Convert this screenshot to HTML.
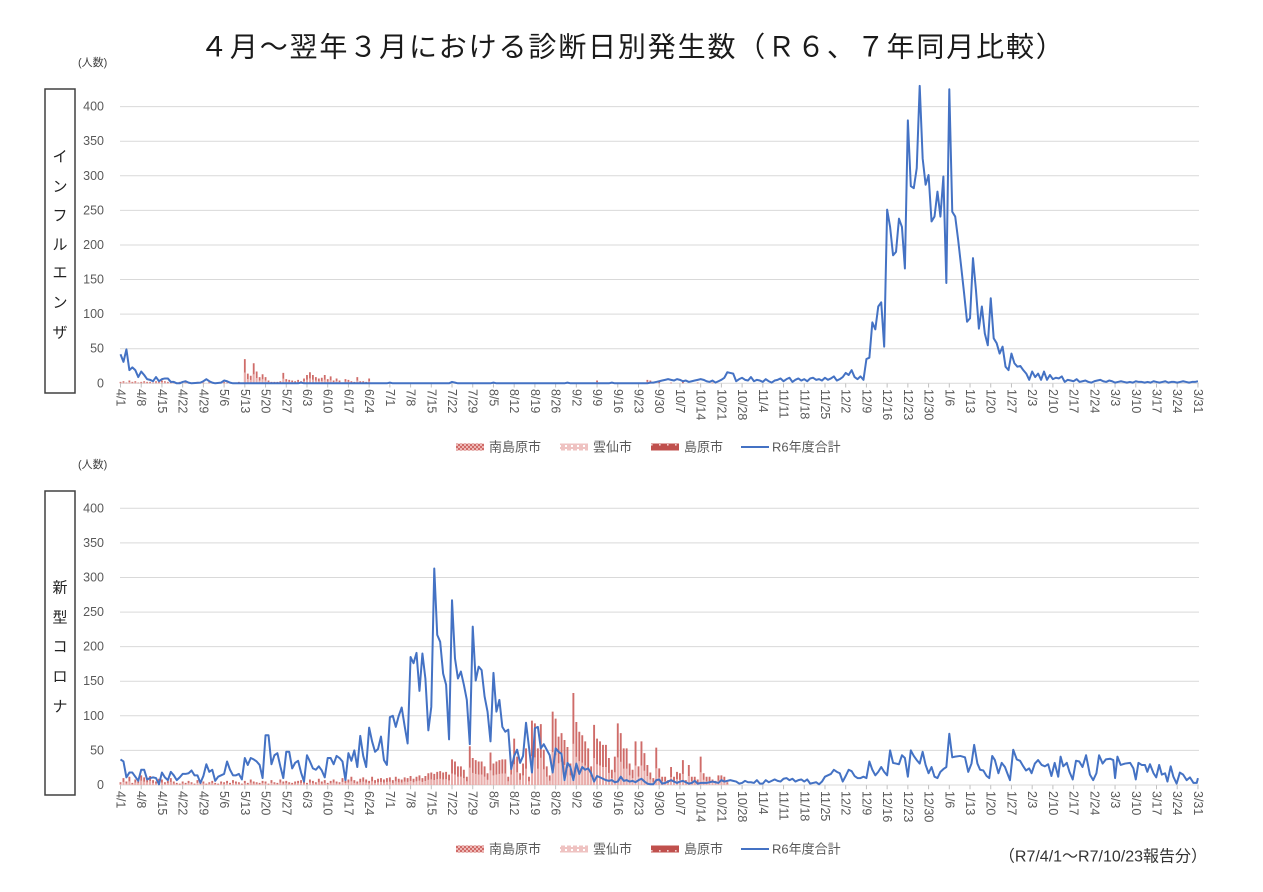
<!DOCTYPE html>
<html><head><meta charset="utf-8"><style>
html,body{margin:0;padding:0;background:#fff}
svg{display:block}
text{font-family:"Liberation Sans","Noto Sans CJK JP",sans-serif}
</style></head><body>
<svg width="1263" height="892" viewBox="0 0 1263 892" xmlns="http://www.w3.org/2000/svg">
<defs>
<pattern id="pa" width="4" height="4" patternUnits="userSpaceOnUse"><rect width="4" height="4" fill="#cf6a67"/><rect width="2" height="2" fill="#eeb8b6"/><rect x="2" y="2" width="2" height="2" fill="#eeb8b6"/></pattern>
<pattern id="pb" width="6" height="4" patternUnits="userSpaceOnUse"><rect width="6" height="4" fill="#efc3c2"/><rect x="1" y="1" width="2" height="2" fill="#fff"/></pattern>
<pattern id="pc" width="8" height="7" patternUnits="userSpaceOnUse"><rect width="8" height="7" fill="#c0504d"/><rect x="3" y="3" width="1.6" height="1.6" fill="#f3d0cf"/></pattern>
</defs>
<rect width="1263" height="892" fill="#fff"/>

<!-- Title -->
<text x="200" y="47" font-size="28" letter-spacing="1.85" fill="#1a1a1a" dominant-baseline="central">４月～翌年３月における診断日別発生数（Ｒ６、７年同月比較）</text>

<!-- ================= TOP CHART ================= -->
<text x="78" y="63" font-size="11" fill="#404040" dominant-baseline="central">(人数)</text>
<rect x="45" y="89" width="30" height="304" fill="none" stroke="#404040" stroke-width="1.5"/>
<g font-size="15" fill="#222" text-anchor="middle" dominant-baseline="central">
<text x="60" y="157">イ</text><text x="60" y="187">ン</text><text x="60" y="216">フ</text><text x="60" y="245">ル</text><text x="60" y="273">エ</text><text x="60" y="303">ン</text><text x="60" y="333">ザ</text>
</g>
<g stroke="#d9d9d9" stroke-width="1">
<line x1="120" y1="106.6" x2="1199" y2="106.6"/><line x1="120" y1="141.2" x2="1199" y2="141.2"/><line x1="120" y1="175.8" x2="1199" y2="175.8"/><line x1="120" y1="210.4" x2="1199" y2="210.4"/><line x1="120" y1="245" x2="1199" y2="245"/><line x1="120" y1="279.5" x2="1199" y2="279.5"/><line x1="120" y1="314.1" x2="1199" y2="314.1"/><line x1="120" y1="348.7" x2="1199" y2="348.7"/><line x1="120" y1="383.3" x2="1199" y2="383.3"/>
</g>
<line x1="120" y1="385.5" x2="1200" y2="385.5" stroke="#bfbfbf" stroke-width="4" stroke-dasharray="1 19.72"/>
<g font-size="12.5" fill="#595959" text-anchor="end" dominant-baseline="central">
<text x="104" y="106.6">400</text><text x="104" y="141.2">350</text><text x="104" y="175.8">300</text><text x="104" y="210.4">250</text><text x="104" y="245">200</text><text x="104" y="279.5">150</text><text x="104" y="314.1">100</text><text x="104" y="348.7">50</text><text x="104" y="383.3">0</text>
</g>
<!-- top bars -->
<g transform="translate(120.5,383.3) scale(2.96,-0.6918)" fill="none">
<path stroke="#cf6c69" stroke-width="1.8" vector-effect="non-scaling-stroke" d="M0 0V2M1 0V3M2 0V1M3 0V4M4 0V2M5 0V3M6 0V1M7 0V2M8 0V3M9 0V2M10 0V2M11 0V1M12 0V3M13 0V2M14 0V4M15 0V3M16 0V2M17 0V1M18 0V2M19 0V1M20 0V2M22 0V1M24 0V1M26 0V2M28 0V1M30 0V2M31 0V1M33 0V1M35 0V2M36 0V1M38 0V1M40 0V2M41 0V1M42 0V35M43 0V14M44 0V11M45 0V29M46 0V17M47 0V9M48 0V13M49 0V9M50 0V4M51 0V2M52 0V2M53 0V2M54 0V3M55 0V15M56 0V6M57 0V5M58 0V4M59 0V3M60 0V5M61 0V3M62 0V7M63 0V12M64 0V16M65 0V12M66 0V9M67 0V7M68 0V8M69 0V12M70 0V6M71 0V10M72 0V4M73 0V7M74 0V4M75 0V1M76 0V6M77 0V5M78 0V3M79 0V2M80 0V9M81 0V3M82 0V3M83 0V2M84 0V7M86 0V1M90 0V1M95 0V1M100 0V1M104 0V1M110 0V1M115 0V1M120 0V1M128 0V1M135 0V1M140 0V1M146 0V1M150 0V1M155 0V1M161 0V4M165 0V1M170 0V1M176 0V1M178 0V5M179 0V4M182 0V2M186 0V1M190 0V2M195 0V1M200 0V1"/>
</g>
<g transform="translate(120.5,383.3) scale(2.96,-0.31)" fill="none">
<path stroke="#eaaeac" stroke-width="1.8" vector-effect="non-scaling-stroke" d="M0 0V2M1 0V3M2 0V1M3 0V4M4 0V2M5 0V3M6 0V1M7 0V2M8 0V3M9 0V2M10 0V2M11 0V1M12 0V3M13 0V2M14 0V4M15 0V3M16 0V2M17 0V1M18 0V2M19 0V1M20 0V2M22 0V1M24 0V1M26 0V2M28 0V1M30 0V2M31 0V1M33 0V1M35 0V2M36 0V1M38 0V1M40 0V2M41 0V1M42 0V35M43 0V14M44 0V11M45 0V29M46 0V17M47 0V9M48 0V13M49 0V9M50 0V4M51 0V2M52 0V2M53 0V2M54 0V3M55 0V15M56 0V6M57 0V5M58 0V4M59 0V3M60 0V5M61 0V3M62 0V7M63 0V12M64 0V16M65 0V12M66 0V9M67 0V7M68 0V8M69 0V12M70 0V6M71 0V10M72 0V4M73 0V7M74 0V4M75 0V1M76 0V6M77 0V5M78 0V3M79 0V2M80 0V9M81 0V3M82 0V3M83 0V2M84 0V7M161 0V4M178 0V5M179 0V4"/>
</g>
<!-- top line -->
<g transform="translate(120.5,383.3) scale(2.96,-0.6918)">
<polyline fill="none" stroke="#4472c4" stroke-width="2" stroke-linejoin="round" vector-effect="non-scaling-stroke" points="0,42 1,31 2,49 3,19 4,23 5,19 6,9 7,17 8,12 9,6 10,5 11,3 12,9 13,3 14,6 15,7 16,7 17,2 18,2 19,0 20,0 21,2 22,3 23,1 24,0 27,1 28,3 29,6 30,3 31,1 32,0 34,1 35,4 36,3 37,1 38,0 60,0 61,1 62,0 90,0 91,1 92,0 111,0 112,2 113,1 114,0 125,0 126,1 127,0 150,0 151,1 152,0 165,0 166,1 167,0 178,0 179,1 180,1 181,2 182,3 183,4 184,5 185,6 186,5 187,4 188,6 189,5 190,3 191,4 192,2 193,3 194,4 195,5 196,6 197,5 198,3 199,2 200,4 201,1 202,3 203,5 204,8 205,16 206,15 207,14 208,3 209,6 210,8 211,5 212,4 213,9 214,3 215,5 216,4 217,2 218,6 219,3 220,1 221,4 222,5 223,7 224,3 225,6 226,8 227,2 228,5 229,7 230,4 231,6 232,3 233,7 234,8 235,5 236,6 237,4 238,8 239,5 240,7 241,10 242,4 243,6 244,9 245,15 246,12 247,19 248,9 249,6 250,10 251,5 252,35 253,37 254,88 255,78 256,111 257,117 258,53 259,251 260,226 261,185 262,190 263,238 264,226 265,166 266,380 267,285 268,282 269,311 270,430 271,325 272,287 273,301 274,234 275,241 276,277 277,241 278,299 279,145 280,425 281,248 282,241 283,207 284,169 285,130 286,89 287,94 288,181 289,135 290,79 291,111 292,72 293,55 294,123 295,65 296,58 297,43 298,53 299,24 300,19 301,43 302,29 303,24 304,25 305,19 306,14 307,5 308,17 309,9 310,14 311,5 312,17 313,5 314,12 315,6 316,8 317,7 318,10 319,2 320,5 321,4 322,3 323,6 324,2 325,3 326,4 327,2 328,1 329,3 330,4 331,5 332,3 333,2 334,4 335,3 336,1 337,2 338,3 339,2 340,1 341,2 342,1 343,3 344,2 345,2 346,1 347,2 348,1 349,3 350,2 351,1 352,2 353,3 354,1 355,2 356,2 357,1 358,2 359,3 360,2 361,1 362,2 363,2 364,3"/>
</g>
<!-- top x labels -->
<g transform="rotate(90)" font-size="12.5" fill="#595959" dominant-baseline="central">
<text x="389" y="-120.5">4/1</text><text x="389" y="-141.2">4/8</text><text x="389" y="-161.9">4/15</text><text x="389" y="-182.7">4/22</text><text x="389" y="-203.4">4/29</text><text x="389" y="-224.1">5/6</text><text x="389" y="-244.8">5/13</text><text x="389" y="-265.5">5/20</text><text x="389" y="-286.3">5/27</text><text x="389" y="-307">6/3</text><text x="389" y="-327.7">6/10</text><text x="389" y="-348.4">6/17</text><text x="389" y="-369.1">6/24</text><text x="389" y="-389.9">7/1</text><text x="389" y="-410.6">7/8</text><text x="389" y="-431.3">7/15</text><text x="389" y="-452">7/22</text><text x="389" y="-472.7">7/29</text><text x="389" y="-493.5">8/5</text><text x="389" y="-514.2">8/12</text><text x="389" y="-534.9">8/19</text><text x="389" y="-555.6">8/26</text><text x="389" y="-576.3">9/2</text><text x="389" y="-597.1">9/9</text><text x="389" y="-617.8">9/16</text><text x="389" y="-638.5">9/23</text><text x="389" y="-659.2">9/30</text><text x="389" y="-679.9">10/7</text><text x="389" y="-700.7">10/14</text><text x="389" y="-721.4">10/21</text><text x="389" y="-742.1">10/28</text><text x="389" y="-762.8">11/4</text><text x="389" y="-783.5">11/11</text><text x="389" y="-804.3">11/18</text><text x="389" y="-825">11/25</text><text x="389" y="-845.7">12/2</text><text x="389" y="-866.4">12/9</text><text x="389" y="-887.1">12/16</text><text x="389" y="-907.9">12/23</text><text x="389" y="-928.6">12/30</text><text x="389" y="-949.3">1/6</text><text x="389" y="-970">1/13</text><text x="389" y="-990.7">1/20</text><text x="389" y="-1011.5">1/27</text><text x="389" y="-1032.2">2/3</text><text x="389" y="-1052.9">2/10</text><text x="389" y="-1073.6">2/17</text><text x="389" y="-1094.3">2/24</text><text x="389" y="-1115.1">3/3</text><text x="389" y="-1135.8">3/10</text><text x="389" y="-1156.5">3/17</text><text x="389" y="-1177.2">3/24</text><text x="389" y="-1197.9">3/31</text>
</g>
<!-- top legend -->
<rect x="456" y="443.5" width="28" height="7" fill="url(#pa)"/>
<rect x="560" y="443.5" width="28" height="7" fill="url(#pb)"/>
<rect x="651" y="443.5" width="28" height="7" fill="url(#pc)"/>
<line x1="741" y1="447" x2="769" y2="447" stroke="#4472c4" stroke-width="2"/>
<g font-size="13" fill="#595959" dominant-baseline="central">
<text x="489" y="447">南島原市</text><text x="593" y="447">雲仙市</text><text x="684" y="447">島原市</text><text x="772" y="447">R6年度合計</text>
</g>

<!-- ================= BOTTOM CHART ================= -->
<text x="78" y="465" font-size="11" fill="#404040" dominant-baseline="central">(人数)</text>
<rect x="45" y="491" width="30" height="304" fill="none" stroke="#404040" stroke-width="1.5"/>
<g font-size="15" fill="#222" text-anchor="middle" dominant-baseline="central">
<text x="60" y="588">新</text><text x="60" y="618">型</text><text x="60" y="647">コ</text><text x="60" y="677">ロ</text><text x="60" y="707">ナ</text>
</g>
<g stroke="#d9d9d9" stroke-width="1">
<line x1="120" y1="508.3" x2="1199" y2="508.3"/><line x1="120" y1="542.9" x2="1199" y2="542.9"/><line x1="120" y1="577.5" x2="1199" y2="577.5"/><line x1="120" y1="612.1" x2="1199" y2="612.1"/><line x1="120" y1="646.6" x2="1199" y2="646.6"/><line x1="120" y1="681.2" x2="1199" y2="681.2"/><line x1="120" y1="715.8" x2="1199" y2="715.8"/><line x1="120" y1="750.4" x2="1199" y2="750.4"/><line x1="120" y1="785" x2="1199" y2="785"/>
</g>
<line x1="120" y1="787.2" x2="1200" y2="787.2" stroke="#bfbfbf" stroke-width="4" stroke-dasharray="1 19.72"/>
<g font-size="12.5" fill="#595959" text-anchor="end" dominant-baseline="central">
<text x="104" y="508.3">400</text><text x="104" y="542.9">350</text><text x="104" y="577.5">300</text><text x="104" y="612.1">250</text><text x="104" y="646.6">200</text><text x="104" y="681.2">150</text><text x="104" y="715.8">100</text><text x="104" y="750.4">50</text><text x="104" y="785">0</text>
</g>
<!-- bottom bars -->
<g transform="translate(120.5,785) scale(2.96,-0.6918)" fill="none">
<path stroke="#cf6c69" stroke-width="1.9" vector-effect="non-scaling-stroke" d="M0 0V4M1 0V10M2 0V5M3 0V12M4 0V3M5 0V8M6 0V6M7 0V14M8 0V11M9 0V9M10 0V13M11 0V7M12 0V5M13 0V9M14 0V8M15 0V4M16 0V6M17 0V10M18 0V5M19 0V3M20 0V2M21 0V5M22 0V3M23 0V6M24 0V4M25 0V2M26 0V7M27 0V3M28 0V5M29 0V2M30 0V4M31 0V6M32 0V3M33 0V2M34 0V5M35 0V4M36 0V6M37 0V3M38 0V7M39 0V5M40 0V4M41 0V2M42 0V6M43 0V3M44 0V8M45 0V5M46 0V4M47 0V3M48 0V6M49 0V5M50 0V2M51 0V7M52 0V4M53 0V3M54 0V8M55 0V5M56 0V6M57 0V4M58 0V3M59 0V5M60 0V6M61 0V7M62 0V5M63 0V3M64 0V8M65 0V6M66 0V4M67 0V9M68 0V5M69 0V7M70 0V3M71 0V6M72 0V8M73 0V5M74 0V4M75 0V10M76 0V6M77 0V8M78 0V12M79 0V7M80 0V5M81 0V9M82 0V11M83 0V8M84 0V6M85 0V12M86 0V7M87 0V9M88 0V10M89 0V8M90 0V10M91 0V11M92 0V7M93 0V12M94 0V9M95 0V8M96 0V11M97 0V10M98 0V13M99 0V9M100 0V12M101 0V14M102 0V10M103 0V13M104 0V17M105 0V18M106 0V16M107 0V19M108 0V20M109 0V18M110 0V19M111 0V15M112 0V37M113 0V34M114 0V27M115 0V27M116 0V22M117 0V12M118 0V56M119 0V39M120 0V36M121 0V34M122 0V34M123 0V27M124 0V17M125 0V47M126 0V31M127 0V34M128 0V36M129 0V37M130 0V37M131 0V12M132 0V34M133 0V67M134 0V41M135 0V17M136 0V31M137 0V53M138 0V12M139 0V93M140 0V89M141 0V53M142 0V88M143 0V51M144 0V27M145 0V14M146 0V106M147 0V96M148 0V70M149 0V75M150 0V65M151 0V55M152 0V31M153 0V133M154 0V91M155 0V77M156 0V72M157 0V63M158 0V53M159 0V27M160 0V87M161 0V67M162 0V63M163 0V58M164 0V58M165 0V39M166 0V22M167 0V41M168 0V89M169 0V75M170 0V53M171 0V53M172 0V31M173 0V22M174 0V63M175 0V27M176 0V63M177 0V46M178 0V29M179 0V18M180 0V10M181 0V54M182 0V24M183 0V12M184 0V12M185 0V7M186 0V26M187 0V12M188 0V19M189 0V17M190 0V36M191 0V7M192 0V29M193 0V12M194 0V12M195 0V8M196 0V41M197 0V17M198 0V12M199 0V12M200 0V8M201 0V6M202 0V14M203 0V14M204 0V12M205 0V4"/>
</g>
<g transform="translate(120.5,785) scale(2.96,-0.31)" fill="none">
<path stroke="#eaaeac" stroke-width="1.9" vector-effect="non-scaling-stroke" d="M0 0V4M1 0V10M2 0V5M3 0V12M4 0V3M5 0V8M6 0V6M7 0V14M8 0V11M9 0V9M10 0V13M11 0V7M12 0V5M13 0V9M14 0V8M15 0V4M16 0V6M17 0V10M18 0V5M19 0V3M20 0V2M21 0V5M22 0V3M23 0V6M24 0V4M25 0V2M26 0V7M27 0V3M28 0V5M29 0V2M30 0V4M31 0V6M32 0V3M33 0V2M34 0V5M35 0V4M36 0V6M37 0V3M38 0V7M39 0V5M40 0V4M41 0V2M42 0V6M43 0V3M44 0V8M45 0V5M46 0V4M47 0V3M48 0V6M49 0V5M50 0V2M51 0V7M52 0V4M53 0V3M54 0V8M55 0V5M56 0V6M57 0V4M58 0V3M59 0V5M60 0V6M61 0V7M62 0V5M63 0V3M64 0V8M65 0V6M66 0V4M67 0V9M68 0V5M69 0V7M70 0V3M71 0V6M72 0V8M73 0V5M74 0V4M75 0V10M76 0V6M77 0V8M78 0V12M79 0V7M80 0V5M81 0V9M82 0V11M83 0V8M84 0V6M85 0V12M86 0V7M87 0V9M88 0V10M89 0V8M90 0V10M91 0V11M92 0V7M93 0V12M94 0V9M95 0V8M96 0V11M97 0V10M98 0V13M99 0V9M100 0V12M101 0V14M102 0V10M103 0V13M104 0V17M105 0V18M106 0V16M107 0V19M108 0V20M109 0V18M110 0V19M111 0V15M112 0V37M113 0V34M114 0V27M115 0V27M116 0V22M117 0V12M118 0V56M119 0V39M120 0V36M121 0V34M122 0V34M123 0V27M124 0V17M125 0V47M126 0V31M127 0V34M128 0V36M129 0V37M130 0V37M131 0V12M132 0V34M133 0V67M134 0V41M135 0V17M136 0V31M137 0V53M138 0V12M139 0V93M140 0V89M141 0V53M142 0V88M143 0V51M144 0V27M145 0V14M146 0V106M147 0V96M148 0V70M149 0V75M150 0V65M151 0V55M152 0V31M153 0V133M154 0V91M155 0V77M156 0V72M157 0V63M158 0V53M159 0V27M160 0V87M161 0V67M162 0V63M163 0V58M164 0V58M165 0V39M166 0V22M167 0V41M168 0V89M169 0V75M170 0V53M171 0V53M172 0V31M173 0V22M174 0V63M175 0V27M176 0V63M177 0V46M178 0V29M179 0V18M180 0V10M181 0V54M182 0V24M183 0V12M184 0V12M185 0V7M186 0V26M187 0V12M188 0V19M189 0V17M190 0V36M191 0V7M192 0V29M193 0V12M194 0V12M195 0V8M196 0V41M197 0V17M198 0V12M199 0V12M200 0V8M201 0V6M202 0V14M203 0V14M204 0V12M205 0V4"/>
</g>
<!-- bottom line -->
<g transform="translate(120.5,785) scale(2.96,-0.6918)">
<polyline fill="none" stroke="#4472c4" stroke-width="2" stroke-linejoin="round" vector-effect="non-scaling-stroke" points="0,37 1,34 2,11 3,18 4,18 5,12 6,6 7,22 8,22 9,8 10,10 11,11 12,10 13,1 14,18 15,11 16,7 17,19 18,14 19,7 20,11 21,16 22,16 23,17 24,21 25,14 26,14 27,3 28,13 29,30 30,19 31,22 32,6 33,12 34,14 35,16 36,34 37,22 38,14 39,14 40,16 41,8 42,39 43,29 44,39 45,37 46,34 47,29 48,10 49,72 50,72 51,30 52,43 53,46 54,27 55,10 56,48 57,48 58,24 59,32 60,35 61,18 62,5 63,43 64,34 65,24 66,22 67,27 68,21 69,11 70,39 71,39 72,30 73,42 74,39 75,34 76,7 77,46 78,35 79,50 80,26 81,71 82,42 83,26 84,83 85,63 86,48 87,52 88,70 89,36 90,29 91,98 92,100 93,84 94,100 95,112 96,85 97,60 98,185 99,176 100,191 101,136 102,190 103,154 104,79 105,113 106,313 107,217 108,207 109,161 110,145 111,66 112,267 113,183 114,154 115,164 116,145 117,123 118,59 119,229 120,151 121,171 122,166 123,128 124,106 125,63 126,162 127,106 128,123 129,84 130,77 131,80 132,23 133,42 134,51 135,32 136,42 137,90 138,55 139,18 140,82 141,84 142,53 143,59 144,51 145,43 146,18 147,53 148,48 149,45 150,7 151,32 152,26 153,7 154,31 155,16 156,26 157,22 158,24 159,17 160,5 161,13 162,11 163,9 164,7 165,6 166,7 167,4 168,5 169,12 170,6 171,7 172,5 173,6 174,4 175,7 176,9 177,5 178,2 179,1 180,1 181,7 182,8 183,2 184,3 185,5 186,7 187,5 188,3 189,5 190,6 191,4 192,2 193,3 194,6 195,2 196,3 197,3 198,3 199,4 200,5 201,4 202,3 203,7 204,5 205,6 206,7 207,6 208,5 209,2 210,3 211,6 212,4 213,4 214,3 215,7 216,2 217,2 218,7 219,4 220,6 221,8 222,6 223,5 224,9 225,10 226,7 227,9 228,5 229,7 230,8 231,5 232,8 233,2 234,3 235,4 236,1 237,5 238,12 239,14 240,16 241,22 242,19 243,17 244,5 245,13 246,22 247,20 248,13 249,10 250,10 251,12 252,10 253,34 254,22 255,14 256,19 257,26 258,19 259,14 260,50 261,32 262,31 263,30 264,43 265,39 266,12 267,50 268,42 269,36 270,31 271,48 272,29 273,17 274,26 275,12 276,10 277,19 278,23 279,26 280,74 281,40 282,41 283.7,42 285.3,40 286.4,19 287.5,31 288.4,58 289.5,31 290.4,22 291.5,21 292.6,13 293.5,10 294.5,42 295.4,36 296.6,17 297.7,32 298.8,26 299.6,17 300.5,7 301.6,51 302.8,37 303.9,35 305,27 305.9,21 307,24 307.8,17 308.9,31 310,36 311.2,29 312.3,27 313.4,30 314.5,13 315.6,32 316.8,12 317.6,41 318.5,27 319.7,32 320.6,19 321.7,8 322.8,35 323.9,34 325,26 326.2,43 327.5,15 328.6,7 329.7,17 330.6,43 331.8,31 332.9,37 334.3,38 335.4,36 336,10 336.8,41 337.9,29 339.4,31 341.1,32 342.2,24 343,8 343.9,32 345,29 346.1,29 346.9,19 347.8,30 349,17 349.9,11 350.9,29 351.8,15 352.9,17 353.7,5 354.8,27 355.7,12 356.8,2 357.9,18 359,15 360.2,7 361.3,11 362.5,3 363.6,3 364,10"/>
</g>
<!-- bottom x labels -->
<g transform="rotate(90)" font-size="12.5" fill="#595959" dominant-baseline="central">
<text x="791" y="-120.5">4/1</text><text x="791" y="-141.2">4/8</text><text x="791" y="-161.9">4/15</text><text x="791" y="-182.7">4/22</text><text x="791" y="-203.4">4/29</text><text x="791" y="-224.1">5/6</text><text x="791" y="-244.8">5/13</text><text x="791" y="-265.5">5/20</text><text x="791" y="-286.3">5/27</text><text x="791" y="-307">6/3</text><text x="791" y="-327.7">6/10</text><text x="791" y="-348.4">6/17</text><text x="791" y="-369.1">6/24</text><text x="791" y="-389.9">7/1</text><text x="791" y="-410.6">7/8</text><text x="791" y="-431.3">7/15</text><text x="791" y="-452">7/22</text><text x="791" y="-472.7">7/29</text><text x="791" y="-493.5">8/5</text><text x="791" y="-514.2">8/12</text><text x="791" y="-534.9">8/19</text><text x="791" y="-555.6">8/26</text><text x="791" y="-576.3">9/2</text><text x="791" y="-597.1">9/9</text><text x="791" y="-617.8">9/16</text><text x="791" y="-638.5">9/23</text><text x="791" y="-659.2">9/30</text><text x="791" y="-679.9">10/7</text><text x="791" y="-700.7">10/14</text><text x="791" y="-721.4">10/21</text><text x="791" y="-742.1">10/28</text><text x="791" y="-762.8">11/4</text><text x="791" y="-783.5">11/11</text><text x="791" y="-804.3">11/18</text><text x="791" y="-825">11/25</text><text x="791" y="-845.7">12/2</text><text x="791" y="-866.4">12/9</text><text x="791" y="-887.1">12/16</text><text x="791" y="-907.9">12/23</text><text x="791" y="-928.6">12/30</text><text x="791" y="-949.3">1/6</text><text x="791" y="-970">1/13</text><text x="791" y="-990.7">1/20</text><text x="791" y="-1011.5">1/27</text><text x="791" y="-1032.2">2/3</text><text x="791" y="-1052.9">2/10</text><text x="791" y="-1073.6">2/17</text><text x="791" y="-1094.3">2/24</text><text x="791" y="-1115.1">3/3</text><text x="791" y="-1135.8">3/10</text><text x="791" y="-1156.5">3/17</text><text x="791" y="-1177.2">3/24</text><text x="791" y="-1197.9">3/31</text>
</g>
<!-- bottom legend -->
<rect x="456" y="845.5" width="28" height="7" fill="url(#pa)"/>
<rect x="560" y="845.5" width="28" height="7" fill="url(#pb)"/>
<rect x="651" y="845.5" width="28" height="7" fill="url(#pc)"/>
<line x1="741" y1="849" x2="769" y2="849" stroke="#4472c4" stroke-width="2"/>
<g font-size="13" fill="#595959" dominant-baseline="central">
<text x="489" y="849">南島原市</text><text x="593" y="849">雲仙市</text><text x="684" y="849">島原市</text><text x="772" y="849">R6年度合計</text>
</g>

<!-- footer -->
<text x="1207" y="857" font-size="16" fill="#333" text-anchor="end" dominant-baseline="central">（R7/4/1～R7/10/23報告分）</text>
</svg>
</body></html>
